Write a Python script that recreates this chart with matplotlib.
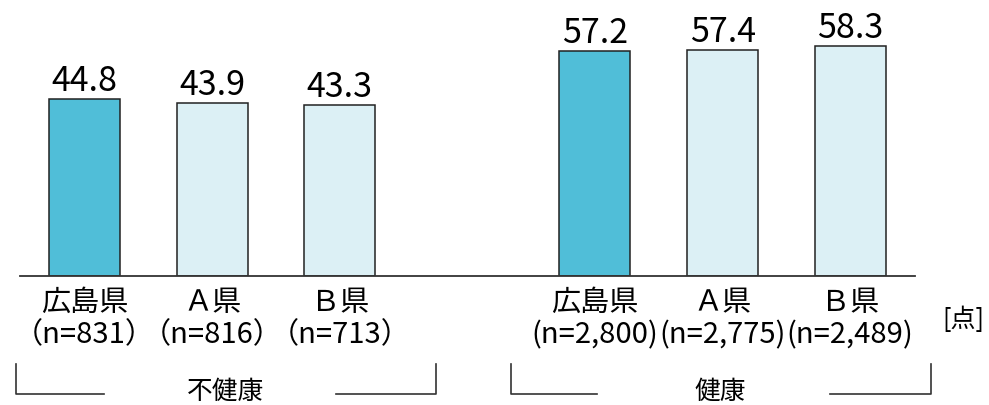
import matplotlib
matplotlib.use("Agg")
import matplotlib.pyplot as plt
from matplotlib.transforms import blended_transform_factory
from matplotlib.lines import Line2D

plt.rcParams['font.family'] = ['Noto Sans CJK JP', 'DejaVu Sans']

# scores by prefecture, for the unhealthy and healthy groups
groups = ["不健康", "健康"]
prefectures = ["広島県", "Ａ県", "Ｂ県"]
scores_unhealthy = [44.8, 43.9, 43.3]
scores_healthy = [57.2, 57.4, 58.3]
n_unhealthy = ["（n=831）", "（n=816）", "（n=713）"]
n_healthy = ["(n=2,800)", "(n=2,775)", "(n=2,489)"]
unit_label = "[点]"

pos_unhealthy = [0, 1, 2]
pos_healthy = [4, 5, 6]

dark = "#50bed8"
light = "#dcf0f5"
colors = [dark, light, light]

W, H = 989, 406
fig = plt.figure(figsize=(W / 100, H / 100), dpi=100)
ax = fig.add_axes([20 / W, 129 / H, 895 / W, 277 / H])
ax.set_xlim(-0.505, 6.508)
ax.set_ylim(0, 70.3)

for pos, vals in ((pos_unhealthy, scores_unhealthy), (pos_healthy, scores_healthy)):
    bars = ax.bar(pos, vals, width=0.556, color=colors,
                  edgecolor="#222222", linewidth=1.1, zorder=2)
    for b, v in zip(bars, vals):
        ax.annotate(f"{v:.1f}", (b.get_x() + b.get_width() / 2, v),
                    xytext=(0, 6.5), textcoords="offset points",
                    ha="center", va="baseline", fontsize=24.5)

for s in ("top", "left", "right"):
    ax.spines[s].set_visible(False)
ax.spines["bottom"].set_linewidth(1.3)
ax.spines["bottom"].set_color("#333333")
ax.set_xticks([])
ax.set_yticks([])

# category labels under the baseline
tr = blended_transform_factory(ax.transData, fig.transFigure)
def fy(px):
    return 1 - px / H

for pos, ns in ((pos_unhealthy, n_unhealthy), (pos_healthy, n_healthy)):
    for x, name, n in zip(pos, prefectures, ns):
        ax.text(x, fy(303), name, transform=tr, ha="center", va="center",
                fontsize=21)
        ax.text(x, fy(335), n, transform=tr, ha="center", va="center",
                fontsize=21)

fig.text(963 / W, fy(320), unit_label, ha="center", va="center", fontsize=18)

# group brackets
spans = [(-0.537, 2.755), (3.34, 6.63)]
gaps = [(0.153, 1.97), (4.016, 5.84)]
for name, (x0, x1), (g0, g1) in zip(groups, spans, gaps):
    kw = dict(transform=tr, color="#333333", linewidth=1.2, clip_on=False)
    fig.add_artist(Line2D([x0, x0, g0], [fy(365), fy(395), fy(395)], **kw))
    fig.add_artist(Line2D([g1, x1, x1], [fy(395), fy(395), fy(365)], **kw))
    ax.text((x0 + x1) / 2, fy(392), name, transform=tr, ha="center",
            va="center", fontsize=18.5)

fig.savefig("out.png", dpi=100)
